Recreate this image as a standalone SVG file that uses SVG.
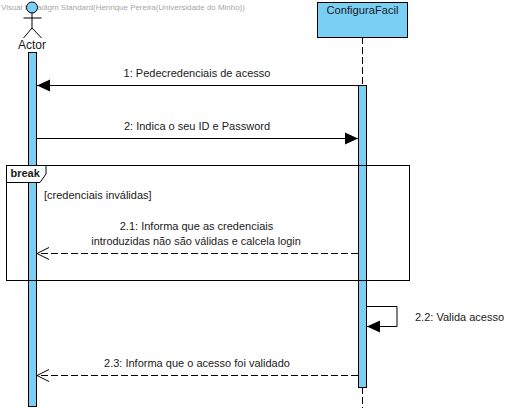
<svg xmlns="http://www.w3.org/2000/svg" width="519" height="411" viewBox="0 0 519 411">
<style>
text{font-family:"Liberation Sans",Arial,sans-serif;font-size:11px;fill:#1a1a1a}
.m{text-anchor:middle}
.b{fill:#7ACFF5;stroke:#000;stroke-width:1}
.l{stroke:#000;stroke-width:1;fill:none}
.d{stroke:#000;stroke-width:1;fill:none;stroke-dasharray:7 3}
</style>
<defs>
<marker id="f" markerUnits="userSpaceOnUse" markerWidth="14" markerHeight="14" refX="13" refY="7" orient="auto"><path d="M0,1 L13,7 L0,13 Z" fill="#000"/></marker>
<marker id="o" markerUnits="userSpaceOnUse" markerWidth="14" markerHeight="16" refX="13" refY="7" orient="auto"><path d="M1,1 L13,7 L1,13" fill="none" stroke="#000"/></marker>
</defs>
<text x="1" y="10" style="font-size:7.950px;fill:#a6a6a6">Visual Paradigm Standard(Henrique Pereira(Universidade do Minho))</text>
<g id="actor">
<circle cx="32" cy="7.5" r="5.5" class="b"/>
<path class="l" d="M32,13V28M23.500,18H41.500M32,28L23.500,38M32,28L41.500,38"/>
<text x="32" y="49" class="m" style="font-size:12px">Actor</text>
<rect id="actor-activation" x="28.500" y="52.500" width="8" height="354" class="b"/>
</g>
<g id="configurafacil">
<path class="d" d="M362.500,37V85M362.500,387V408"/>
<rect x="317.500" y="2.500" width="90" height="35" class="b"/>
<text x="362.500" y="14" class="m" style="font-size:11.200px">ConfiguraFacil</text>
<rect id="configurafacil-activation" x="358.500" y="85.500" width="8" height="302" class="b"/>
</g>
<g id="break-fragment">
<rect x="6.500" y="165.500" width="403" height="115" class="l"/>
<path d="M6.500,165.500H46V174L40,182.500H6.500Z" fill="#fff" stroke="#000"/>
<text x="10.500" y="177" style="font-weight:bold;font-size:11px">break</text>
<text x="44" y="199">[credenciais inválidas]</text>
</g>
<g id="connectors">
<path class="l" d="M358,85.500H37" marker-end="url(#f)"/>
<path class="l" d="M37,138.500H358" marker-end="url(#f)"/>
<path class="d" d="M358,253.500H37" marker-end="url(#o)"/>
<path class="l" d="M367,306.500H397V326.500H367" marker-end="url(#f)"/>
<path class="d" d="M358,375.500H37" marker-end="url(#o)"/>
</g>
<g id="labels">
<text x="197" y="77" class="m">1: Pedecredenciais de acesso</text>
<text x="197" y="130" class="m">2: Indica o seu ID e Password</text>
<text x="196.500" y="230" class="m">2.1: Informa que as credenciais</text>
<text x="196" y="245" class="m" style="font-size:10.900px">introduzidas não são válidas e calcela login</text>
<text x="415" y="321">2.2: Valida acesso</text>
<text x="197" y="367" class="m">2.3: Informa que o acesso foi validado</text>
</g>
</svg>
